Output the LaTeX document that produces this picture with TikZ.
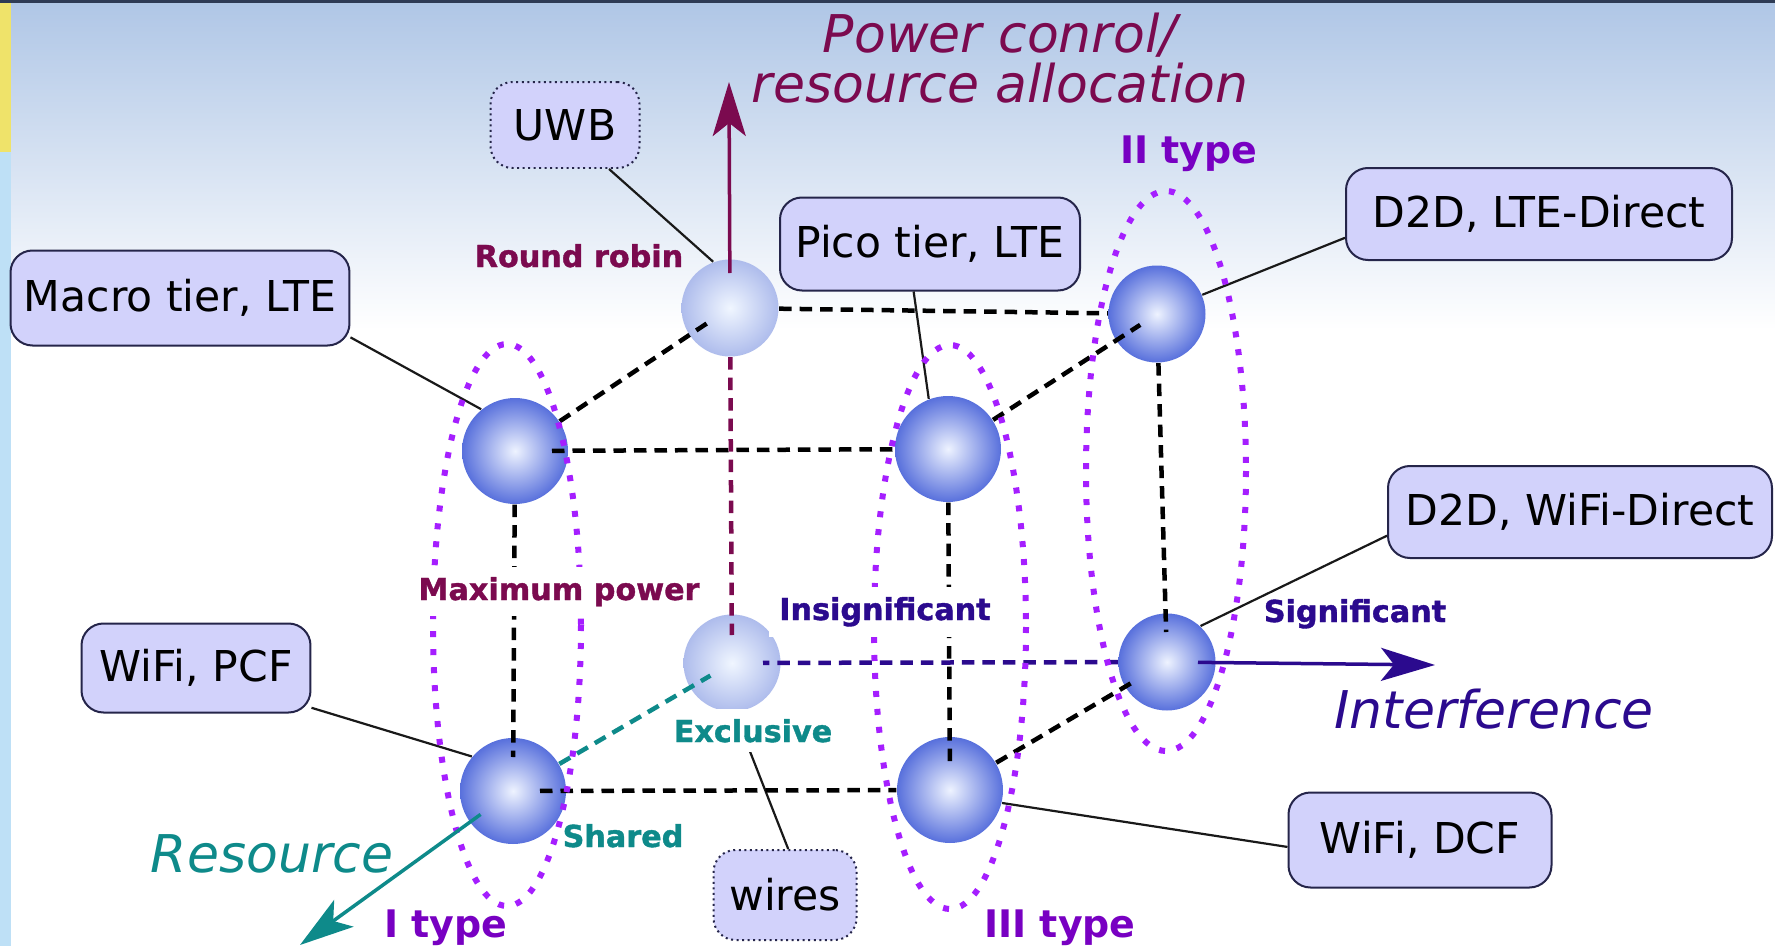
\documentclass[tikz,border=0pt]{standalone}
\usepackage{fontspec}
\setmainfont{DejaVu Sans}
\newfontfamily\tagfont[FakeBold=1.3]{DejaVu Sans Bold}
\usetikzlibrary{arrows.meta}

\definecolor{powcol}{HTML}{7B0A4F}
\definecolor{typecol}{HTML}{7800C2}
\definecolor{intcol}{HTML}{2B0A8E}
\definecolor{rescol}{HTML}{0E8A8A}
\definecolor{ringcol}{HTML}{A51EFF}
\definecolor{boxfill}{HTML}{D2D2FB}
\definecolor{boxline}{HTML}{25254A}
\definecolor{skytop}{HTML}{AFC6E6}
\definecolor{stripblue}{HTML}{BEE0F6}
\definecolor{stripyellow}{HTML}{EFE36A}
\definecolor{topbar}{HTML}{2E3B55}
\definecolor{ballcore}{HTML}{EEF3FF}
\definecolor{balledge}{HTML}{5870DC}
\definecolor{palecore}{HTML}{F0F6FF}
\definecolor{paleedge}{HTML}{AEBCEC}

\tikzset{
  ball/.style={circle, minimum size=10.6mm, inner sep=0pt, inner color=ballcore, outer color=balledge},
  backball/.style={ball, minimum size=9.7mm},
  paleball/.style={backball, inner color=palecore, outer color=paleedge},
  techbox/.style={draw=boxline, fill=boxfill, line width=0.2mm, rounded corners=2.2mm, minimum height=9.2mm, font=\fontsize{12.1}{14}\selectfont},
  wirebox/.style={techbox, densely dotted},
  tie/.style={line width=0.22mm, black!90},
  cube/.style={line width=0.45mm, dash pattern=on 1.25mm off 0.8mm},
  ring/.style={ringcol, line width=0.6mm, dash pattern=on 0.6mm off 1.2mm},
  tag/.style={font=\fontsize{8.6}{10}\selectfont\tagfont, anchor=base, inner sep=1mm},
  typetag/.style={font=\fontsize{10.8}{13}\selectfont\bfseries, typecol, anchor=base},
  axis/.style={font=\fontsize{14.8}{14.2}\selectfont\itshape},
  axisarrow/.style={-{Stealth[length=5.4mm,width=3.3mm,inset=1.3mm]}, line width=0.35mm}
}

\begin{document}
\begin{tikzpicture}[x=0.1mm,y=-0.1mm]
\useasboundingbox (0,0) rectangle (1775,946);

%background
\fill[white] (0,0) rectangle (1775,946);
\shade[top color=skytop, bottom color=white] (0,0) rectangle (1775,330);
\fill[stripblue] (0,0) rectangle (11,946);
\fill[stripyellow] (0,0) rectangle (11,152);
\fill[topbar] (0,0) rectangle (1775,3);

%spheres
\node[paleball] (rr) at (730,308) {};
\node[backball] (d2dl) at (1157,314) {};
\node[paleball] (excl) at (732,663) {};
\node[backball] (signif) at (1167,662) {};
\node[ball] (macro) at (515,451) {};
\node[ball] (pico) at (948,449) {};
\node[ball] (pcf) at (513,791) {};
\node[ball] (dcf) at (950,790) {};

%boxes
\node[wirebox, minimum width=14.9mm, minimum height=8.6mm] (uwbbox) at (565,125) {UWB};
\node[techbox, minimum width=33.9mm, minimum height=9.5mm] (macrobox) at (180,298) {Macro tier, LTE};
\node[techbox, minimum width=30mm, minimum height=9.3mm] (picobox) at (930,244) {Pico tier, LTE};
\node[techbox, minimum width=38.6mm] (ltebox) at (1539,214) {D2D, LTE-Direct};
\node[techbox, minimum width=38.4mm] (wifidbox) at (1580,512) {D2D, WiFi-Direct};
\node[techbox, minimum width=22.9mm, minimum height=8.9mm] (pcfbox) at (196,668) {WiFi, PCF};
\node[techbox, minimum width=26.3mm, minimum height=9.5mm] (dcfbox) at (1420,840) {WiFi, DCF};
\node[wirebox, minimum width=14.3mm, minimum height=9mm] (wiresbox) at (785,895) {wires};

%connectors
\draw[tie] (uwbbox.-45) -- (rr.110);
\draw[tie] (macrobox.-13) -- (macro.129);
\draw[tie] (picobox.-109) -- (pico.111);
\draw[tie] (ltebox.187) -- (d2dl.23);
\draw[tie] (wifidbox.187) -- (signif.47);
\draw[tie] (pcfbox.-19) -- (pcf.140);
\draw[tie] (dcfbox.183) -- (dcf.-14);
\draw[tie] (wiresbox.86) -- (excl.-87);

%cube
\draw[cube, shorten >=2.7mm] (macro) -- (rr.center);
\draw[cube] (rr) -- (d2dl);
\draw[cube, shorten <=3.7mm] (macro.center) -- (pico);
\draw[cube, shorten >=2mm] (pico) -- (d2dl.center);
\draw[cube, shorten >=3.4mm] (macro) -- (pcf.center);
\draw[cube, shorten >=2.5mm] (pico) -- (dcf.center);
\draw[cube, shorten >=3mm] (d2dl) -- (signif.center);
\draw[cube, shorten <=2.7mm] (pcf.center) -- (dcf);
\draw[cube, shorten >=3.6mm] (dcf) -- (signif.center);
\draw[cube, powcol, shorten >=2.8mm] (rr) -- (excl.center);
\draw[cube, intcol, shorten >=3.1mm] (signif) -- (excl.center);
\draw[cube, rescol, shorten >=2.5mm] (pcf) -- (excl.center);

%types
\draw[ring] (507,625) ellipse [x radius=74, y radius=281];
\draw[ring] (950,627) ellipse [x radius=76, y radius=282];
\draw[ring] (1166,471) ellipse [x radius=80, y radius=280];

%axes
\coordinate (powtip) at (729,82);
\coordinate (inttip) at (1435,665);
\coordinate (restip) at (300,945);
\draw[axisarrow, powcol, shorten <=3.5mm] (rr.center) -- (powtip);
\draw[axisarrow, intcol, shorten <=3.1mm] (signif.center) -- (inttip);
\draw[axisarrow, rescol, shorten <=4mm] (pcf.center) -- (restip);

%text
\node[tag, powcol] (rrtag) at (579,267) {Round robin};
\node[tag, powcol, fill=white] (maxtag) at (559,600) {Maximum power};
\node[tag, intcol, fill=white] (insigtag) at (885,620) {Insignificant};
\node[tag, intcol] (sigtag) at (1355,622) {Significant};
\node[tag, rescol, fill=white] (excltag) at (753,742) {Exclusive};
\node[tag, rescol] (sharetag) at (623,847) {Shared};
\node[typetag] (type1) at (446,937) {I type};
\node[typetag] (type2) at (1189,163) {II type};
\node[typetag] (type3) at (1060,937) {III type};
\node[axis, rescol, anchor=base] (reslabel) at (272,872) {Resource};
\node[axis, intcol, anchor=base] (intlabel) at (1494,728) {Interference};
\node[axis, powcol, align=center, anchor=north, inner sep=0pt] (powlabel) at (1000,12) {Power conrol/\\resource allocation};
\end{tikzpicture}
\end{document}
